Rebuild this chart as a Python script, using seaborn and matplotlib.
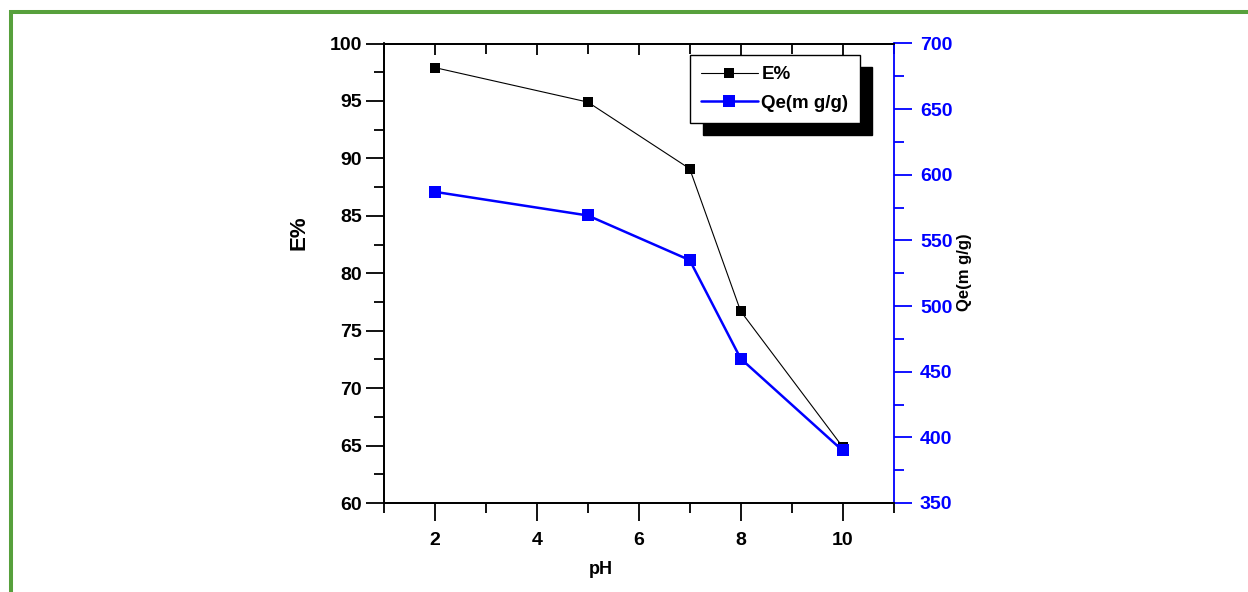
import matplotlib
matplotlib.use("Agg")
import matplotlib.pyplot as plt
import seaborn as sns
import pandas as pd
from matplotlib.lines import Line2D
from matplotlib.ticker import MultipleLocator

# ---- data ----
ph = [2, 5, 7, 8, 10]
e_percent = [97.9, 94.9, 89.1, 76.7, 64.9]
qe_mg_g = [587, 569, 535, 460, 390]
label_x = "pH"
label_e = "E%"
label_q = "Qe(m g/g)"

sns.set_style("ticks")
plt.rcParams["font.family"] = ["Liberation Sans", "DejaVu Sans"]
plt.rcParams["font.weight"] = "bold"
plt.rcParams["text.color"] = "black"
plt.rcParams["axes.labelcolor"] = "black"
plt.rcParams["xtick.color"] = "black"
plt.rcParams["ytick.color"] = "black"

df = pd.DataFrame({"pH": ph, "E": e_percent, "Qe": qe_mg_g})

fig = plt.figure(figsize=(12.48, 5.92), dpi=100)
ax = fig.add_axes([384 / 1248, 1 - 503 / 592, (893.5 - 384) / 1248, (503 - 43.5) / 592])
ax2 = ax.twinx()

sns.lineplot(data=df, x="pH", y="E", ax=ax, color="black", marker="s",
             markersize=7.5, markeredgewidth=0, linewidth=0.8, label=label_e, legend=False)
sns.lineplot(data=df, x="pH", y="Qe", ax=ax2, color="#0000ff", marker="s",
             markersize=8.5, markeredgewidth=0, linewidth=1.8, label=label_q, legend=False)

ax.set_xlim(1, 11)
ax.set_ylim(60, 100)
ax2.set_ylim(350, 700)

ax.xaxis.set_major_locator(MultipleLocator(2))
ax.xaxis.set_minor_locator(MultipleLocator(1))
ax.yaxis.set_major_locator(MultipleLocator(5))
ax.yaxis.set_minor_locator(MultipleLocator(2.5))
ax2.yaxis.set_major_locator(MultipleLocator(50))
ax2.yaxis.set_minor_locator(MultipleLocator(25))

for sp in ax.spines.values():
    sp.set_linewidth(1.3)
    sp.set_color("black")
for name, sp in ax2.spines.items():
    sp.set_linewidth(1.3)
    sp.set_color("black")
ax2.spines["right"].set_color("#0000ff")
ax.spines["right"].set_visible(False)

tick_fs = 14
ax.tick_params(axis="x", which="major", direction="out", length=13, width=1.3, pad=8,
               labelsize=tick_fs, top=True, bottom=True, colors="black")
ax.tick_params(axis="x", which="minor", direction="out", length=7, width=1.3,
               top=True, bottom=True, colors="black")
for t in ax.xaxis.get_major_ticks():
    t.tick2line.set_marker(3)
    t.tick2line.set_markersize(8)
for t in ax.xaxis.get_minor_ticks():
    t.tick2line.set_marker(3)
    t.tick2line.set_markersize(7)
ax.tick_params(axis="y", which="major", direction="out", length=13, width=1.3, pad=3,
               labelsize=tick_fs, right=False, colors="black")
ax.tick_params(axis="y", which="minor", direction="out", length=7, width=1.3, right=False,
               colors="black")

ax2.tick_params(axis="y", which="major", direction="out", length=13, width=1.3, pad=6,
                labelsize=tick_fs, colors="#0000ff")
ax2.tick_params(axis="y", which="minor", direction="out", length=7, width=1.3, colors="#0000ff")

for lab in ax.get_xticklabels() + ax.get_yticklabels() + ax2.get_yticklabels():
    lab.set_fontweight("bold")

ax.set_xlabel(label_x, fontsize=13, fontweight="bold", color="black")
ax.set_ylabel(label_e, fontsize=16, fontweight="bold", color="black")
ax2.set_ylabel(label_q, fontsize=12, fontweight="bold", color="black")
ax.xaxis.set_label_coords(0.426, -0.126)
ax.yaxis.set_label_coords(-0.147, 0.588)
ax2.yaxis.set_label_coords(1.124, 0.503)

h1, l1 = ax.get_legend_handles_labels()
h2, l2 = ax2.get_legend_handles_labels()
leg = ax2.legend(h1 + h2, l1 + l2, loc="upper left", bbox_to_anchor=(0.6006, 0.975),
                 borderaxespad=0, fancybox=False, frameon=True, edgecolor="black",
                 framealpha=1, handlelength=3.0, handletextpad=0.2,
                 borderpad=0.6, labelspacing=0.6,
                 prop={"weight": "bold", "size": 13.5},
                 shadow={"ox": 9, "oy": -9, "facecolor": "black", "edgecolor": "black", "alpha": 1})
leg.get_frame().set_linewidth(1.0)
for txt in leg.get_texts():
    txt.set_color("black")

# green frame (top and left edges)
fig.add_artist(Line2D([9 / 1248, 1.0], [1 - 12 / 592, 1 - 12 / 592], color="#57a03c",
                      linewidth=2.9, transform=fig.transFigure, solid_capstyle="butt"))
fig.add_artist(Line2D([11 / 1248, 11 / 1248], [0.0, 1 - 10 / 592], color="#57a03c",
                      linewidth=2.9, transform=fig.transFigure, solid_capstyle="butt"))

fig.savefig("out.png", dpi=100)
